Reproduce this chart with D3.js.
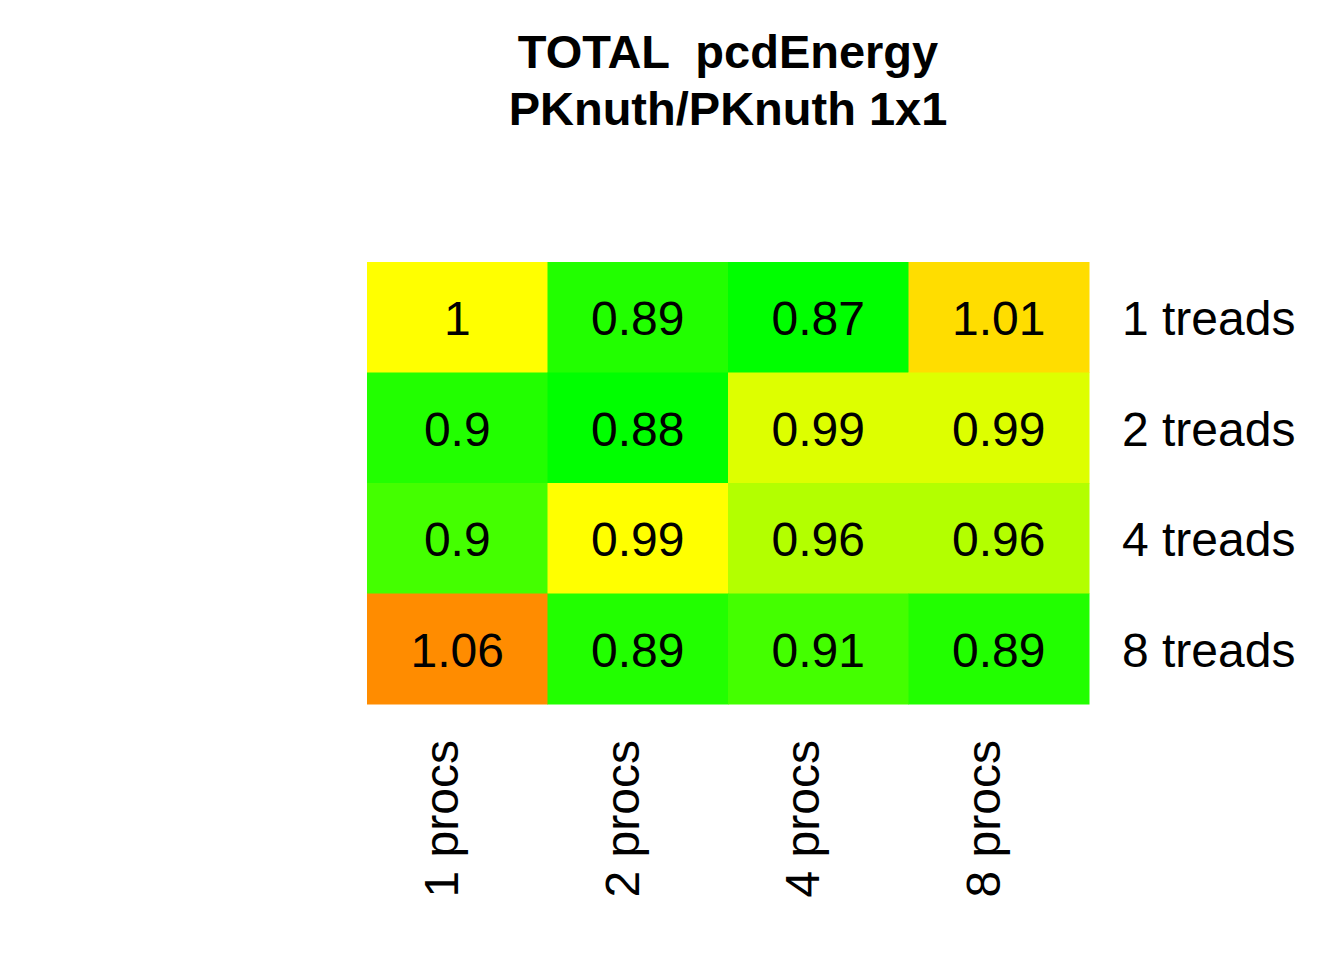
<!DOCTYPE html>
<html>
<head>
<meta charset="utf-8">
<script src="https://cdn.jsdelivr.net/npm/d3@7"></script>
<style>
  body { margin: 0; background: #fff; }
  text { font-family: "Liberation Sans", Arial, sans-serif; fill: #000; }
</style>
</head>
<body>
<div id="vis"></div>
<script>
// Frame and plot region
const FRAME_WIDTH = 1344;
const FRAME_HEIGHT = 960;
const PLOT = {left: 367, right: 1089, top: 262, bottom: 704};

// Data
const procs = ["1 procs", "2 procs", "4 procs", "8 procs"];
const threads = ["1 treads", "2 treads", "4 treads", "8 treads"];
// ratio per thread row, one value per procs column (unrounded estimates)
const row1 = [1.000, 0.890, 0.870, 1.010];
const row2 = [0.896, 0.880, 0.990, 0.990];
const row3 = [0.902, 0.995, 0.960, 0.960];
const row4 = [1.060, 0.890, 0.910, 0.890];
const rows = [row1, row2, row3, row4];

// colour breaks of the heat palette
const breaks = [0.885, 0.899, 0.92, 0.975, 0.993, 1.005, 1.03];
const palette = ["#00ff00", "#22ff00", "#44ff00", "#b3ff00", "#ddff00", "#ffff00", "#ffdd00", "#ff8c00"];

const svg = d3.select("#vis")
  .append("svg")
    .attr("width", FRAME_WIDTH)
    .attr("height", FRAME_HEIGHT);

const X_SCALE = d3.scaleBand().domain(procs).range([PLOT.left, PLOT.right]);
const Y_SCALE = d3.scaleBand().domain(threads).range([PLOT.top, PLOT.bottom]);
const COLOR = d3.scaleThreshold().domain(breaks).range(palette);

// flatten into cells
const cells = [];
rows.forEach((r, i) => r.forEach((v, j) => cells.push({t: threads[i], p: procs[j], v: v})));

svg.selectAll(".cell")
  .data(cells)
  .enter()
  .append("rect")
    .attr("x", d => X_SCALE(d.p))
    .attr("y", d => Y_SCALE(d.t))
    .attr("width", X_SCALE.bandwidth() + 0.5)
    .attr("height", Y_SCALE.bandwidth() + 0.5)
    .attr("fill", d => COLOR(d.v));

// values in the cells
svg.selectAll(".val")
  .data(cells)
  .enter()
  .append("text")
    .attr("x", d => X_SCALE(d.p) + X_SCALE.bandwidth() / 2)
    .attr("y", d => Y_SCALE(d.t) + Y_SCALE.bandwidth() / 2)
    .attr("dy", "0.37em")
    .attr("text-anchor", "middle")
    .attr("font-size", "48px")
    .text(d => String(+d.v.toFixed(2)));

// row labels on the right
svg.selectAll(".rowlab")
  .data(threads)
  .enter()
  .append("text")
    .attr("x", PLOT.right + 33)
    .attr("y", d => Y_SCALE(d) + Y_SCALE.bandwidth() / 2)
    .attr("dy", "0.37em")
    .attr("font-size", "48px")
    .text(d => d);

// column labels, rotated
svg.selectAll(".collab")
  .data(procs)
  .enter()
  .append("text")
    .attr("transform", d => "translate(" + (X_SCALE(d) + X_SCALE.bandwidth() / 2 + 1) + "," + (PLOT.bottom + 36) + ") rotate(-90)")
    .attr("text-anchor", "end")
    .attr("font-size", "48px")
    .text(d => d);

// title
const midX = (PLOT.left + PLOT.right) / 2;
svg.append("text")
  .attr("x", midX).attr("y", 68)
  .attr("text-anchor", "middle")
  .attr("font-size", "47px").attr("font-weight", "bold")
  .attr("xml:space", "preserve")
  .style("white-space", "pre")
  .text("TOTAL  pcdEnergy");
svg.append("text")
  .attr("x", midX).attr("y", 125)
  .attr("text-anchor", "middle")
  .attr("font-size", "47px").attr("font-weight", "bold")
  .text("PKnuth/PKnuth 1x1");
</script>
</body>
</html>
